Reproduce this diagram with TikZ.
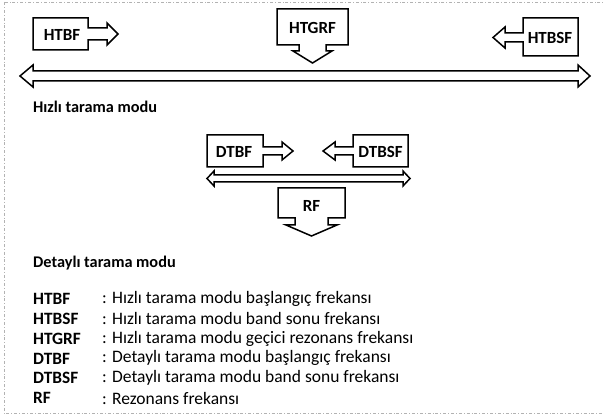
\documentclass[tikz,border=0pt]{standalone}
\usepackage{fontspec}
\setmainfont{Carlito}
\begin{document}
\begin{tikzpicture}[x=1pt,y=-1pt,
  shp/.style={draw=black,line width=1.5pt,line join=miter,fill=white},
  lbl/.style={font=\fontsize{17}{19}\selectfont\bfseries,inner sep=0pt},
  head/.style={font=\fontsize{16.3}{18}\selectfont\bfseries,inner sep=0pt,anchor=west},
  key/.style={font=\fontsize{17.3}{19}\selectfont\bfseries,inner sep=0pt,anchor=west},
  desc/.style={font=\fontsize{17.5}{19}\selectfont,inner sep=0pt,anchor=west},
  frame/.style={draw=black!30,line width=0.8pt,dash dot}]
\useasboundingbox (0,0) rectangle (603,414);
\begin{scope}
\clip (0,0) rectangle (603,414);
\draw[frame] (4,2) rectangle (640,413);
\end{scope}
% --- fast scan mode ---
\draw[shp] (33,18) -- (88,18) -- (88,28) -- (107,28) -- (107,23) -- (118,34) -- (107,45) -- (107,40) -- (88,40) -- (88,50) -- (33,50) -- cycle;
\node[lbl] (htbf) at (62,35) {HTBF};
\draw[shp] (277,9) -- (348,9) -- (348,45) -- (326,45) -- (326,51) -- (332,51) -- (312.5,63) -- (293,51) -- (299,51) -- (299,45) -- (277,45) -- cycle;
\node[lbl] (htgrf) at (312.5,28) {HTGRF};
\draw[shp] (523,18) -- (578,18) -- (578,56) -- (523,56) -- (523,42) -- (505,42) -- (505,48) -- (493,37.5) -- (505,27) -- (505,33) -- (523,33) -- cycle;
\node[lbl] (htbsf) at (550,37.5) {HTBSF};
\draw[shp] (20,76) -- (33,65) -- (33,71) -- (578,71) -- (578,65) -- (590,76) -- (578,87) -- (578,81) -- (33,81) -- (33,87) -- cycle;
\node[head] (hiz) at (33,107) {Hızlı tarama modu};
% --- detailed scan mode ---
\draw[shp] (207,135) -- (263,135) -- (263,147) -- (282,147) -- (282,142) -- (293,151) -- (282,160) -- (282,155) -- (263,155) -- (263,167) -- (207,167) -- cycle;
\node[lbl] (dtbf) at (234,152) {DTBF};
\draw[shp] (353,135) -- (408,135) -- (408,167) -- (353,167) -- (353,155) -- (335,155) -- (335,160) -- (323,151) -- (335,142) -- (335,147) -- (353,147) -- cycle;
\node[lbl] (dtbsf) at (380.5,152) {DTBSF};
\draw[shp] (207,178.5) -- (214,171) -- (214,175) -- (403,175) -- (403,171) -- (410,178.5) -- (403,186) -- (403,182) -- (214,182) -- (214,186) -- cycle;
\draw[shp] (278,188) -- (345,188) -- (345,218) -- (328,218) -- (328,225) -- (337,225) -- (311.5,236) -- (286,225) -- (295,225) -- (295,218) -- (278,218) -- cycle;
\node[lbl] (rf) at (311.5,206) {RF};
\node[head] (det) at (33,263) {Detaylı tarama modu};
% --- legend ---
\foreach \k/\d [count=\i from 0] in {HTBF/Hızlı tarama modu başlangıç frekansı,
  HTBSF/Hızlı tarama modu band sonu frekansı,
  HTGRF/Hızlı tarama modu geçici rezonans frekansı,
  DTBF/Detaylı tarama modu başlangıç frekansı,
  DTBSF/Detaylı tarama modu band sonu frekansı,
  RF/Rezonans frekansı}{
  \node[key] (k\i) at (33,299+19.8*\i) {\k};
  \node[desc] (d\i) at (102,299+19.8*\i) {: \d};
}
\end{tikzpicture}
\end{document}
